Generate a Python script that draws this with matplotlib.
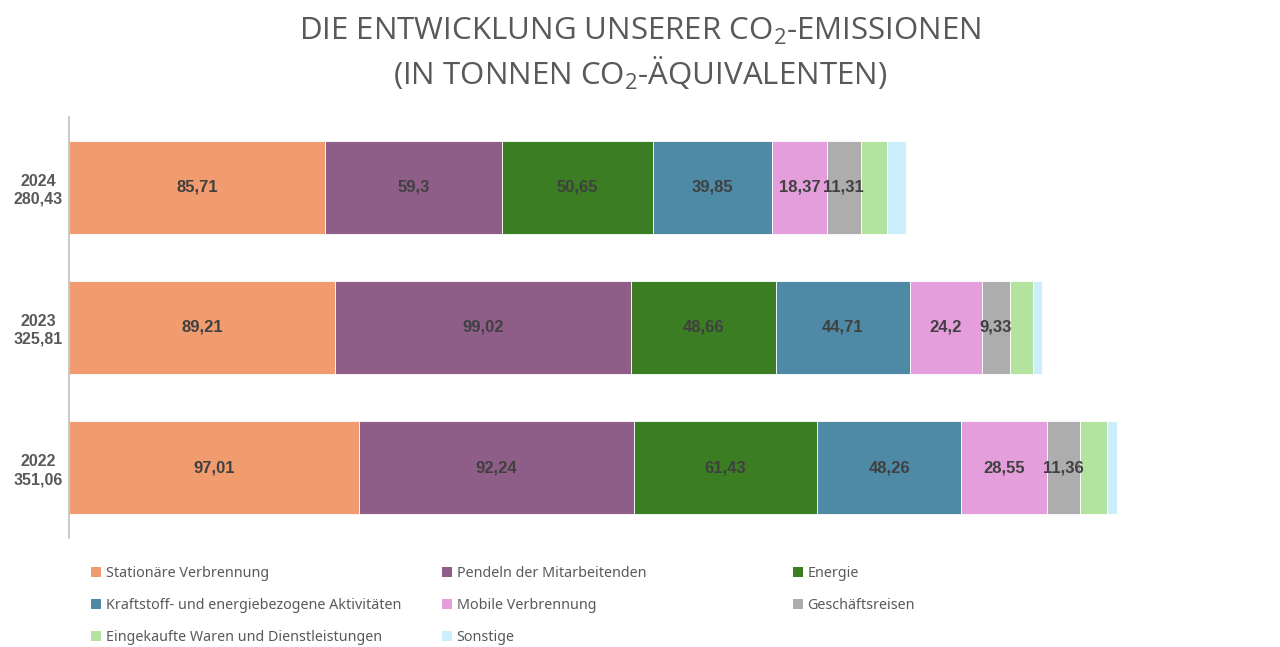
import matplotlib
matplotlib.use("Agg")
import matplotlib.pyplot as plt
from matplotlib.patches import Patch
import numpy as np

years = ["2022", "2023", "2024"]
totals = ["351,06", "325,81", "280,43"]
categories = [
    "Stationäre Verbrennung",
    "Pendeln der Mitarbeitenden",
    "Energie",
    "Kraftstoff- und energiebezogene Aktivitäten",
    "Mobile Verbrennung",
    "Geschäftsreisen",
    "Eingekaufte Waren und Dienstleistungen",
    "Sonstige",
]
# values per category for years 2022, 2023, 2024
stationaer = [97.01, 89.21, 85.71]
pendeln = [92.24, 99.02, 59.30]
energie = [61.43, 48.66, 50.65]
kraftstoff = [48.26, 44.71, 39.85]
mobile = [28.55, 24.20, 18.37]
geschaeft = [11.36, 9.33, 11.31]
eingekauft = [8.96, 7.88, 8.90]
sonstige = [3.25, 2.80, 6.34]
series = [stationaer, pendeln, energie, kraftstoff, mobile, geschaeft, eingekauft, sonstige]
labelled = [True, True, True, True, True, True, False, False]

colors = ["#F19C6E", "#8E5E89", "#3A7D22", "#4E8AA6", "#E59EDC", "#ADADAD", "#B4E3A0", "#CAEEFB"]

fig = plt.figure(figsize=(12.8, 6.47), dpi=100)
ax = fig.add_axes([69/1280, 109/647, 1161/1280, 421/647])

y = np.arange(len(years))
left = np.zeros(len(years))
for vals, col, lab in zip(series, colors, labelled):
    vals = np.array(vals)
    ax.barh(y, vals, left=left, height=0.664, color=col, edgecolor="white", linewidth=0.6)
    if lab:
        for yi, l, v in zip(y, left, vals):
            ax.text(l + v / 2, yi, f"{v:.2f}".rstrip("0").rstrip(".").replace(".", ","),
                    ha="center", va="center", fontsize=12, fontweight="bold",
                    color="#404040", family="Liberation Sans")
    left += vals

ax.set_xlim(0, 1161 / 2.985)
ax.set_ylim(-0.5, 2.5)
ax.set_yticks(y)
ax.set_yticklabels([f"{a}\n{b}" for a, b in zip(years, totals)], fontsize=11.5,
                   fontweight="bold", color="#595959", family="Liberation Sans",
                   ha="center", linespacing=1.25)
ax.tick_params(axis="y", length=0, pad=22)
ax.set_xticks([])
for s in ["top", "right", "bottom"]:
    ax.spines[s].set_visible(False)
ax.spines["left"].set_color("#BFBFBF")
ax.spines["left"].set_linewidth(1.2)

plt.rcParams["mathtext.fontset"] = "custom"
plt.rcParams["mathtext.rm"] = "Open Sans"
fig.text(0.5, 1 - 31/647, r"DIE ENTWICKLUNG UNSERER CO$_\mathregular{2}$-EMISSIONEN",
         ha="center", va="center", fontsize=22.5, color="#595959", family="Open Sans")
fig.text(0.5, 1 - 73/647, r"(IN TONNEN CO$_\mathregular{2}$-ÄQUIVALENTEN)",
         ha="center", va="center", fontsize=22.5, color="#595959", family="Open Sans")

# legend: three columns, row-major order
col_x = [91, 442, 793]
for c in range(3):
    idx = [i for i in range(len(categories)) if i % 3 == c]
    handles = [Patch(facecolor=colors[i], edgecolor="none") for i in idx]
    labels = [categories[i] for i in idx]
    leg = fig.legend(handles, labels, loc="upper left",
                     bbox_to_anchor=(col_x[c] / 1280, 1 - 566/647),
                     frameon=False, handlelength=0.72, handleheight=0.72,
                     handletextpad=0.3, labelspacing=1.19, borderaxespad=0,
                     borderpad=0, prop={"family": "Noto Sans", "size": 10.3})
    for t in leg.get_texts():
        t.set_color("#595959")

fig.savefig("out.png", dpi=100)
